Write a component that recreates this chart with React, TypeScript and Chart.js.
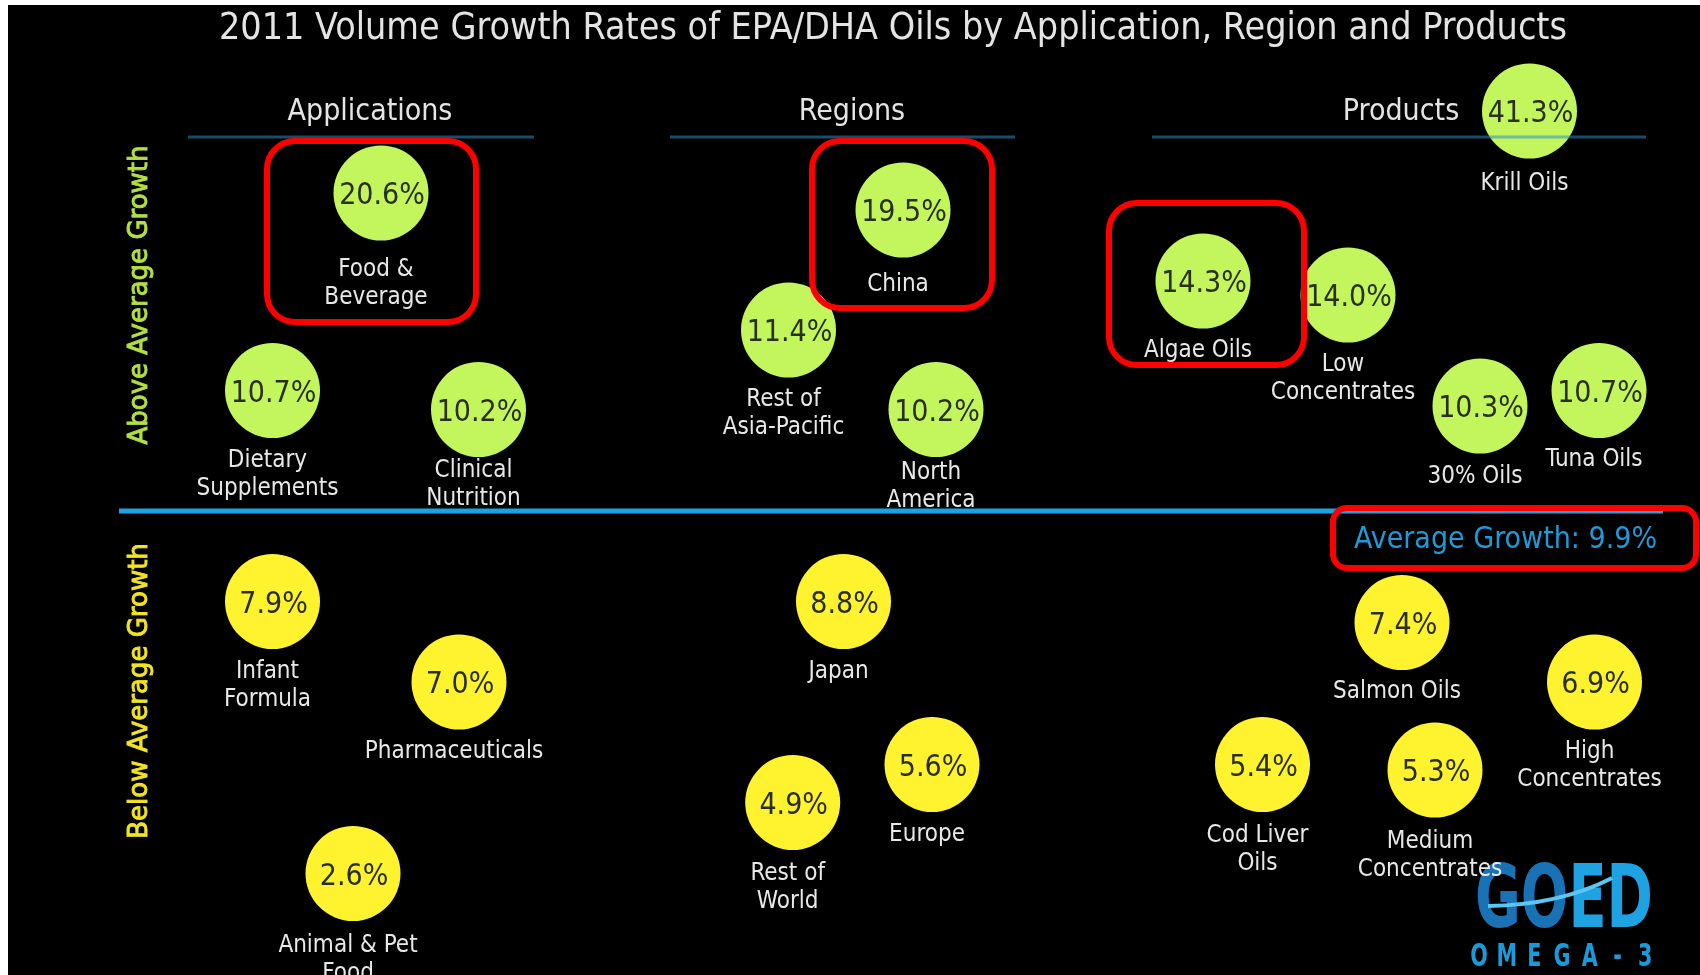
import React, { useEffect, useRef } from 'react';
import { Chart, LinearScale, registerables } from 'chart.js';

// ---------------- data ----------------
const TITLE = '2011 Volume Growth Rates of EPA/DHA Oils by Application, Region and Products';
const GROUPS = ['Applications', 'Regions', 'Products'];
const ZONE_LABELS = ['Above Average Growth', 'Below Average Growth'];
const AVERAGE_LABEL = 'Average Growth: 9.9%';
const AVERAGE_GROWTH = 9.9;

const CATEGORIES = [
  'Food &\nBeverage', 'Dietary\nSupplements', 'Clinical\nNutrition', 'Infant\nFormula', 'Pharmaceuticals', 'Animal & Pet\nFood',
  'China', 'Rest of\nAsia-Pacific', 'North\nAmerica', 'Japan', 'Rest of\nWorld', 'Europe',
  'Krill Oils', 'Algae Oils', 'Low\nConcentrates', '30% Oils', 'Tuna Oils', 'Salmon Oils', 'High\nConcentrates', 'Cod Liver\nOils', 'Medium\nConcentrates',
];
const CATEGORY_GROUP = [0, 0, 0, 0, 0, 0, 1, 1, 1, 1, 1, 1, 2, 2, 2, 2, 2, 2, 2, 2, 2];
const GROWTH_RATE = [20.6, 10.7, 10.2, 7.9, 7.0, 2.6, 19.5, 11.4, 10.2, 8.8, 4.9, 5.6, 41.3, 14.3, 14.0, 10.3, 10.7, 7.4, 6.9, 5.4, 5.3];
const HIGHLIGHTED = ['Food &\nBeverage', 'China', 'Algae Oils'];

// ---------------- layout (kept apart from the data) ----------------
const DESIGN_W = 1700;
const DESIGN_H = 975;
// horizontal slot of each bubble on the x scale
const X_SLOT = [381, 272.5, 478.5, 272.5, 459, 353, 903, 788.5, 936, 843.5, 792.7, 932, 1529.5, 1203, 1348, 1480, 1599, 1402, 1594.5, 1262.5, 1435];
// distance from bubble centre to the label's first line
const LABEL_DY = [74, 67, 58, 67, 67, 69, 72, 67, 60, 67, 68.5, 67, 70, 67, 67, 68, 66, 66.5, 67, 68, 69];
// the infographic's vertical axis is non-linear: growth value -> design position
const Y_AXIS_KNOTS: [number, number][] = [
  [50, 40], [41.3, 111], [20.6, 193], [19.5, 210], [14.3, 281], [14.0, 295], [11.4, 330], [10.7, 390.5],
  [10.3, 406], [10.2, 409.5], [9.9, 511], [8.8, 601.5], [7.9, 601.5], [7.4, 622.5], [7.0, 682], [6.9, 682],
  [5.6, 764.5], [5.4, 764.5], [5.3, 770], [4.9, 802.5], [2.6, 873.5], [0, 975],
];
const HEADER_X = [370, 852, 1401];
const HEADER_RULES: [number, number][] = [[188, 534], [670, 1015], [1152, 1646]];
// red highlight boxes as offsets (left, right, top, bottom) from the bubble centre
const HIGHLIGHT_BOX: [number, number, number, number][] = [[-114, 95, -52, 129], [-91, 89, -69, 98], [-94, 101, -78, 84]];

const BUBBLE_RADIUS = 47.5;
const GREEN = '#c3f65c';
const YELLOW = '#fff22e';
const FONT = '"DejaVu Sans Condensed", "DejaVu Sans", sans-serif';

class KnotScale extends LinearScale {
  static id = 'knots';
  static defaults = { ...(LinearScale as any).defaults };
  private designY(value: number): number {
    const k = Y_AXIS_KNOTS;
    if (value >= k[0][0]) return k[0][1];
    if (value <= k[k.length - 1][0]) return k[k.length - 1][1];
    for (let i = 0; i < k.length - 1; i++) {
      const [v0, p0] = k[i];
      const [v1, p1] = k[i + 1];
      if (value <= v0 && value >= v1) {
        const t = v0 === v1 ? 0 : (v0 - value) / (v0 - v1);
        return p0 + t * (p1 - p0);
      }
    }
    return k[k.length - 1][1];
  }
  getPixelForValue(value: number) {
    const self: any = this;
    return self.top + (this.designY(value) / DESIGN_H) * (self.bottom - self.top);
  }
  getValueForPixel(pixel: number) {
    const self: any = this;
    const d = ((pixel - self.top) / (self.bottom - self.top)) * DESIGN_H;
    const k = Y_AXIS_KNOTS;
    for (let i = 0; i < k.length - 1; i++) {
      const [v0, p0] = k[i];
      const [v1, p1] = k[i + 1];
      if (d >= p0 && d <= p1 && p1 !== p0) return v0 + ((d - p0) / (p1 - p0)) * (v1 - v0);
    }
    return 0;
  }
}

Chart.register(...registerables, KnotScale as any);

function txt(ctx: CanvasRenderingContext2D, s: string, x: number, y: number, font: string, color: string, align: CanvasTextAlign = 'center') {
  ctx.font = font;
  ctx.fillStyle = color;
  ctx.textAlign = align;
  ctx.textBaseline = 'alphabetic';
  ctx.fillText(s, x, y);
}

// text stretched horizontally so it spans a given width
function fitTxt(ctx: CanvasRenderingContext2D, s: string, cx: number, y: number, font: string, color: string, width: number) {
  ctx.save();
  ctx.font = font;
  const w = ctx.measureText(s).width;
  ctx.translate(cx, y);
  ctx.scale(width / w, 1);
  ctx.fillStyle = color;
  ctx.textAlign = 'center';
  ctx.textBaseline = 'alphabetic';
  ctx.fillText(s, 0, 0);
  ctx.restore();
}

const infographicPlugin = {
  id: 'infographic',
  beforeDraw(chart: any) {
    const { ctx, width, height } = chart;
    ctx.save();
    ctx.fillStyle = '#ffffff';
    ctx.fillRect(0, 0, width, height);
    ctx.fillStyle = '#000000';
    ctx.fillRect(8, 5, width - 8, height - 5);
    ctx.restore();
  },
  beforeDatasetsDraw(chart: any) {
    const { ctx } = chart;
    const xs = chart.scales.x;
    const ys = chart.scales.y;
    ctx.save();
    // title
    fitTxt(ctx, TITLE, xs.getPixelForValue(893), 39, `37px ${FONT}`, '#e4e4e4', 1348);
    // group headers
    GROUPS.forEach((g, i) => txt(ctx, g, xs.getPixelForValue(HEADER_X[i]), 120, `30px ${FONT}`, '#e4e4e4'));
    // zone labels (rotated)
    const zoneColors = ['#b2e040', '#f2e41e'];
    const zoneCentres = [295, 691];
    ZONE_LABELS.forEach((z, i) => {
      ctx.save();
      ctx.translate(xs.getPixelForValue(140), zoneCentres[i]);
      ctx.rotate(-Math.PI / 2);
      ctx.font = `26px "DejaVu Sans", sans-serif`;
      ctx.fillStyle = zoneColors[i];
      ctx.strokeStyle = zoneColors[i];
      ctx.lineWidth = 0.9;
      ctx.textAlign = 'center';
      ctx.textBaseline = 'middle';
      ctx.fillText(z, 0, 0);
      ctx.strokeText(z, 0, 0);
      ctx.restore();
    });
    // average line
    const ay = ys.getPixelForValue(AVERAGE_GROWTH);
    ctx.strokeStyle = '#1ba3e3';
    ctx.lineWidth = 5;
    ctx.beginPath();
    ctx.moveTo(xs.getPixelForValue(119), ay);
    ctx.lineTo(xs.getPixelForValue(1663), ay);
    ctx.stroke();
    // logo
    ctx.save();
    ctx.font = `bold 88px ${FONT}`;
    const wGO = ctx.measureText('GO').width;
    const wAll = ctx.measureText('GOED').width;
    const sx = 178 / wAll;
    ctx.translate(1475, 927);
    ctx.scale(sx, 1);
    ctx.textAlign = 'left';
    ctx.textBaseline = 'alphabetic';
    ctx.fillStyle = '#1a72b6';
    ctx.fillText('GO', 0, 0);
    ctx.fillStyle = '#1ea2e2';
    ctx.fillText('ED', wGO, 0);
    ctx.restore();
    ctx.strokeStyle = '#5cc6f2';
    ctx.lineWidth = 4;
    ctx.beginPath();
    ctx.moveTo(1488, 906);
    ctx.quadraticCurveTo(1560, 905, 1612, 878);
    ctx.stroke();
    const omega = 'OMEGA-3';
    ctx.font = `bold 32px ${FONT}`;
    ctx.fillStyle = '#1b9ad9';
    for (let i = 0; i < omega.length; i++) {
      ctx.save();
      ctx.translate(1479 + i * 27.7, 966);
      ctx.scale(0.72, 1);
      ctx.textAlign = 'center';
      ctx.fillText(omega[i], 0, 0);
      ctx.restore();
    }
    ctx.restore();
  },
  afterDatasetsDraw(chart: any) {
    const { ctx } = chart;
    const xs = chart.scales.x;
    const ys = chart.scales.y;
    const meta = chart.getDatasetMeta(0);
    ctx.save();
    // header rules (translucent, crossing the Krill bubble)
    ctx.strokeStyle = 'rgba(50,140,185,0.55)';
    ctx.lineWidth = 3;
    HEADER_RULES.forEach(([a, b]) => {
      ctx.beginPath();
      ctx.moveTo(xs.getPixelForValue(a), 137);
      ctx.lineTo(xs.getPixelForValue(b), 137);
      ctx.stroke();
    });
    meta.data.forEach((el: any, i: number) => {
      const { x, y } = el.getProps(['x', 'y'], true);
      txt(ctx, `${GROWTH_RATE[i].toFixed(1)}%`, x + 1, y + 11, `30px ${FONT}`, '#2a2f1c');
      CATEGORIES[i].split('\n').forEach((line, j) => {
        txt(ctx, line, x - 5, y + LABEL_DY[i] + 9 + j * 28, `24px ${FONT}`, '#e8e8e8');
      });
    });
    // highlight boxes
    ctx.strokeStyle = '#ff0000';
    ctx.lineWidth = 6;
    HIGHLIGHTED.forEach((name, h) => {
      const i = CATEGORIES.indexOf(name);
      const { x, y } = meta.data[i].getProps(['x', 'y'], true);
      const [l, r, t, b] = HIGHLIGHT_BOX[h];
      ctx.beginPath();
      ctx.roundRect(x + l, y + t, r - l, b - t, 28);
      ctx.stroke();
    });
    // average label and its box
    txt(ctx, AVERAGE_LABEL, xs.getPixelForValue(1354), 548, `30px ${FONT}`, '#1f9ad8', 'left');
    ctx.beginPath();
    ctx.roundRect(xs.getPixelForValue(1333), ys.getPixelForValue(AVERAGE_GROWTH) - 3, 363, 60, 14);
    ctx.stroke();
    ctx.restore();
  },
};

export default function App() {
  const ref = useRef<HTMLCanvasElement>(null);
  useEffect(() => {
    if (!ref.current) return;
    const chart = new Chart(ref.current, {
      type: 'bubble',
      data: {
        datasets: [
          {
            label: 'Growth rate',
            data: GROWTH_RATE.map((v, i) => ({ x: X_SLOT[i], y: v, group: GROUPS[CATEGORY_GROUP[i]] })) as any,
            radius: BUBBLE_RADIUS,
            backgroundColor: GROWTH_RATE.map((v) => (v > AVERAGE_GROWTH ? GREEN : YELLOW)),
            borderWidth: 0,
          } as any,
        ],
      },
      options: {
        responsive: false,
        devicePixelRatio: 1,
        animation: false,
        events: [],
        layout: { padding: 0, autoPadding: false } as any,
        scales: {
          x: { type: 'linear', min: 0, max: DESIGN_W, display: false },
          y: { type: 'knots' as any, min: 0, max: 50, display: false },
        },
        plugins: { legend: { display: false }, tooltip: { enabled: false }, title: { display: false } },
      },
      plugins: [infographicPlugin],
    });
    return () => chart.destroy();
  }, []);
  return (
    <div style={{ position: 'fixed', left: 0, top: 0, width: DESIGN_W, height: DESIGN_H, overflow: 'hidden' }}>
      <canvas ref={ref} width={DESIGN_W} height={DESIGN_H} style={{ display: 'block', width: DESIGN_W, height: DESIGN_H }} />
    </div>
  );
}
